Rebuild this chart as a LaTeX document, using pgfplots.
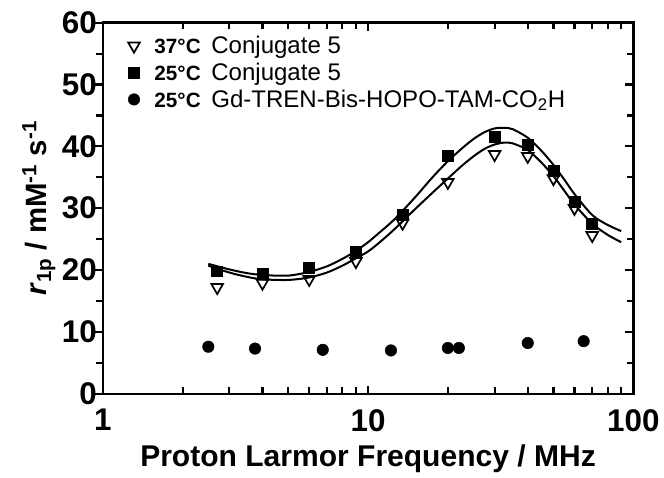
\documentclass[border=0pt]{standalone}
\usepackage{pgfplots}
\pgfplotsset{compat=1.18}
\usepackage{fontspec}
\setmainfont{Liberation Sans}

\begin{document}
\begin{tikzpicture}
% frame with inward ticks (right y, top and bottom x), labels and data
\begin{axis}[
    scale only axis,
    width=397.5pt, height=278pt,
    xmode=log,
    xmin=1, xmax=100,
    ymin=0, ymax=60,
    xtick={1,10,100},
    xticklabels={1,10,100},
    minor xtick={2,3,4,5,6,7,8,9,20,30,40,50,60,70,80,90},
    ytick={0,10,...,60},
    minor ytick={5,15,...,55},
    ytick pos=right,
    yticklabel pos=left,
    tick align=inside,
    major tick length=6pt,
    minor tick length=5pt,
    axis line style={line width=1.8pt},
    every tick/.style={black, line width=1.6pt},
    /pgf/number format/assume math mode=true,
    tick label style={font=\fontsize{23.5}{25}\selectfont\bfseries},
    xticklabel style={yshift=-8pt},
    yticklabel style={xshift=-1pt},
    xlabel={Proton Larmor Frequency / MHz},
    xlabel style={font=\fontsize{22.5}{24}\selectfont\bfseries, yshift=-3pt},
    ylabel={\textit{r}\textsubscript{1p} / mM\textsuperscript{-1} s\textsuperscript{-1}},
    ylabel style={font=\fontsize{22}{24}\selectfont\bfseries, yshift=-2pt},
    legend style={draw=none, fill=none, at={(0.045,0.975)}, anchor=north west,
        font=\fontsize{18}{20}\selectfont, row sep=1.5pt, inner sep=1pt,
        /tikz/every odd column/.append style={column sep=9pt}},
    legend cell align=left,
]
% fitted curve, 25 C
\addplot[black, line width=1.5pt, smooth, forget plot] coordinates {
    (2.5,21.0) (3,20.1) (3.5,19.5) (4,19.2) (5,19.1) (6,19.7) (7,20.6)
    (8,21.8) (9,23.1) (10,24.5) (11,26.0) (12.5,28.1) (15,31.7) (17.5,35.0)
    (20,37.6) (22.5,39.6) (25,41.2) (27.5,42.3) (30,42.9) (32.5,43.0)
    (35,42.8) (40,41.4) (45,39.3) (50,37.0) (55,34.6) (60,32.3) (70,28.9)
    (80,27.3) (90,26.3)
};
% fitted curve, 37 C
\addplot[black, line width=1.5pt, smooth, forget plot] coordinates {
    (2.5,20.7) (3,19.6) (3.5,18.9) (4,18.5) (5,18.4) (6,18.8) (7,19.6)
    (8,20.7) (9,21.9) (10,23.0) (11,24.4) (12.5,26.5) (15,29.8) (17.5,32.5)
    (20,34.8) (22.5,36.8) (25,38.4) (27.5,39.6) (30,40.3) (32.5,40.6)
    (35,40.5) (40,39.4) (45,37.4) (50,35.2) (55,32.8) (60,30.6) (70,27.5)
    (80,25.7) (90,24.5)
};
% 25 C conjugate 5
\addplot[only marks, mark=square*, mark size=4.1pt, black, forget plot] coordinates {
    (2.7,19.8) (4,19.4) (6,20.4) (9,22.9) (13.5,29.0) (20,38.5) (30,41.6)
    (40,40.3) (50,36.0) (60,31.0) (70,27.5)
};
% 37 C conjugate 5
\addplot[only marks, mark=triangle, mark size=5pt, black, line width=1.3pt,
    mark options={rotate=180}, forget plot] coordinates {
    (2.7,17.2) (4,17.9) (6,18.5) (9,21.4) (13.5,27.6) (20,34.2) (30,38.7)
    (40,38.4) (50,34.8) (60,30.0) (70,25.6)
};
% 25 C Gd-TREN-Bis-HOPO-TAM-CO2H
\addplot[only marks, mark=*, mark size=4.3pt, black, forget plot] coordinates {
    (2.5,7.6) (3.75,7.3) (6.75,7.1) (12.2,7.0) (20,7.4) (22,7.4) (40,8.2)
    (65,8.5)
};
\addlegendimage{only marks, mark=triangle, mark size=5pt, black, line width=1.3pt, mark options={rotate=180}}
\addlegendentry{{\fontsize{15.5}{16}\selectfont\bfseries 37°C}\hspace{8pt}Conjugate 5}
\addlegendimage{only marks, mark=square*, mark size=4.1pt, black}
\addlegendentry{{\fontsize{15.5}{16}\selectfont\bfseries 25°C}\hspace{8pt}Conjugate 5}
\addlegendimage{only marks, mark=*, mark size=4.3pt, black}
\addlegendentry{{\fontsize{15.5}{16}\selectfont\bfseries 25°C}\hspace{8pt}Gd-TREN-Bis-HOPO-TAM-CO\textsubscript{2}H}
\end{axis}
% left y axis with outward ticks
\begin{axis}[
    scale only axis,
    width=397.5pt, height=278pt,
    xmode=log,
    xmin=1, xmax=100,
    ymin=0, ymax=60,
    axis x line=none,
    axis y line*=left,
    ytick={0,10,...,60},
    minor ytick={5,15,...,55},
    yticklabels={},
    tick align=outside,
    major tick length=6pt,
    minor tick length=5pt,
    axis line style={line width=1.8pt, -},
    every tick/.style={black, line width=1.6pt},
]
\end{axis}
\path (-77pt,-63pt) rectangle (420.5pt,295pt);
\end{tikzpicture}
\end{document}
